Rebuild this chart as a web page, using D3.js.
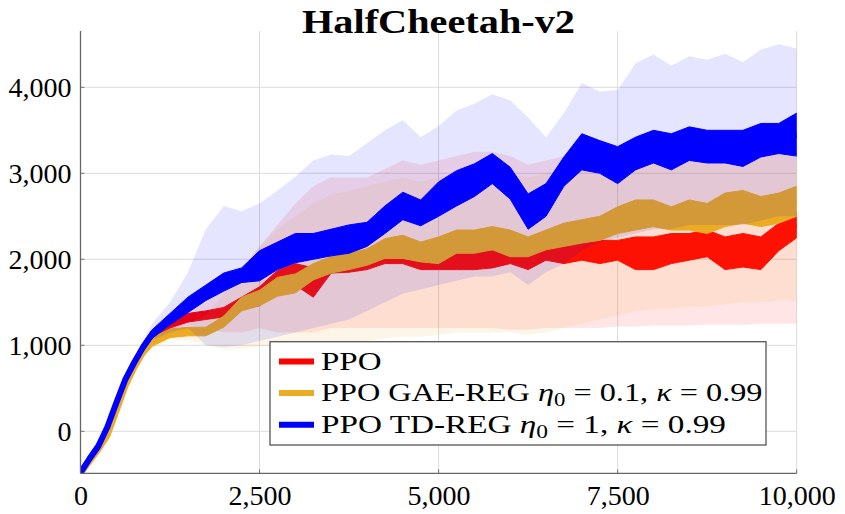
<!DOCTYPE html>
<html>
<head>
<meta charset="utf-8">
<script src="https://cdn.jsdelivr.net/npm/d3@7"></script>
<style>
  body { margin: 0; background: #fff; }
  text { font-family: "Liberation Serif", "DejaVu Serif", serif; }
</style>
</head>
<body>
<div id="chart"></div>
<script>
// training steps (x)
const steps = [0, 125, 250, 375, 500, 625, 750, 875, 1000, 1250, 1500, 1750, 2000, 2250, 2500, 2750, 3000, 3250, 3500,
  3750, 4000, 4250, 4500, 4750, 5000, 5250, 5500, 5750, 6000, 6250, 6500, 6750, 7000, 7250,
  7500, 7750, 8000, 8250, 8500, 8750, 9000, 9250, 9500, 9750, 10000];

// PPO (red): noisy mean curve envelope and shaded spread
const ppoLo = [-520, -370, -240, -70, 210, 510, 730, 910, 1040, 1200, 1270, 1300, 1330, 1420, 1460, 1610, 1700, 1560, 1840,
  1850, 1880, 1950, 1950, 1880, 1880, 1880, 1880, 1900, 1950, 1880, 1990, 1950, 1990, 1950,
  1990, 1880, 1880, 1950, 1990, 2030, 1880, 1910, 1880, 2100, 2250];
const ppoHi = [-460, -310, -160, 30, 310, 610, 830, 1010, 1140, 1290, 1370, 1400, 1440, 1560, 1680, 1870, 1950, 1900, 2030,
  2050, 2040, 2110, 2100, 2150, 2070, 2070, 2100, 2100, 2180, 2030, 2180, 2150, 2180, 2220,
  2220, 2260, 2260, 2300, 2300, 2340, 2260, 2300, 2260, 2420, 2550];
const ppoBandLo = [-500, -370, -240, -70, 210, 500, 720, 900, 1040, 1180, 1230, 1200, 1150, 1150, 1200, 1150, 1150, 1150, 1200,
  1200, 1200, 1200, 1200, 1200, 1200, 1200, 1200, 1200, 1180, 1180, 1200, 1200, 1200, 1200,
  1220, 1220, 1230, 1230, 1230, 1240, 1240, 1240, 1250, 1250, 1250];
const ppoBandHi = [-480, -310, -160, 30, 310, 620, 840, 1030, 1170, 1320, 1420, 1500, 1650, 1900, 2150, 2400, 2650, 2850, 2950,
  2950, 2950, 3050, 3150, 3100, 3150, 3200, 3250, 3250, 3200, 3100, 3150, 3200, 3250, 3250,
  3200, 3250, 3250, 3250, 3250, 3300, 3300, 3300, 3300, 3300, 3300];

// PPO GAE-REG (orange)
const gaeLo = [-520, -380, -250, -100, 180, 470, 690, 870, 990, 1090, 1110, 1110, 1210, 1400, 1460, 1570, 1610, 1760, 1840,
  1880, 1930, 2010, 2010, 1970, 1950, 2070, 2070, 2110, 2030, 2030, 2110, 2150, 2190, 2220,
  2300, 2340, 2380, 2340, 2340, 2300, 2380, 2420, 2380, 2420, 2500];
const gaeHi = [-460, -320, -170, 0, 280, 570, 790, 970, 1090, 1190, 1210, 1210, 1340, 1560, 1640, 1790, 1830, 1950, 2030,
  2070, 2120, 2240, 2280, 2200, 2260, 2340, 2340, 2380, 2340, 2260, 2340, 2420, 2460, 2500,
  2610, 2690, 2690, 2610, 2690, 2650, 2770, 2800, 2730, 2770, 2850];
const gaeBandLo = [-500, -380, -250, -100, 180, 460, 680, 860, 960, 1060, 1060, 1000, 950, 960, 980, 1000, 1020, 1050, 1050,
  1050, 1050, 1080, 1100, 1100, 1120, 1150, 1150, 1150, 1150, 1120, 1150, 1200, 1250, 1300,
  1350, 1400, 1420, 1430, 1450, 1450, 1480, 1500, 1500, 1520, 1520];
const gaeBandHi = [-480, -320, -170, 0, 280, 580, 800, 980, 1100, 1220, 1260, 1350, 1600, 1900, 2150, 2350, 2500, 2650, 2750,
  2800, 2850, 2900, 2950, 2900, 2950, 3000, 3000, 3050, 3000, 2950, 3000, 3050, 3100, 3100,
  3150, 3150, 3200, 3150, 3200, 3200, 3250, 3250, 3250, 3300, 3300];

// PPO TD-REG (blue)
const tdLo = [-520, -360, -220, 0, 280, 550, 750, 930, 1080, 1240, 1380, 1520, 1630, 1730, 1750, 1880, 1960, 2000, 2040,
  2070, 2150, 2300, 2460, 2390, 2500, 2620, 2730, 2880, 2700, 2350, 2500, 2850, 3040, 3000,
  2880, 3040, 3120, 3040, 3150, 3120, 3120, 3080, 3190, 3230, 3200];
const tdHi = [-440, -280, -120, 100, 380, 650, 850, 1030, 1180, 1370, 1560, 1700, 1840, 1900, 2100, 2200, 2300, 2300, 2350,
  2400, 2430, 2620, 2780, 2690, 2900, 3030, 3110, 3230, 3070, 2760, 2880, 3190, 3460, 3380,
  3310, 3420, 3500, 3460, 3540, 3500, 3500, 3500, 3580, 3580, 3700];
const tdBandLo = [-500, -370, -230, -10, 270, 540, 740, 920, 1060, 1150, 1200, 1000, 980, 1000, 1050, 1100, 1150, 1200, 1250,
  1300, 1400, 1500, 1600, 1650, 1700, 1750, 1800, 1800, 1850, 1700, 1850, 1950, 2100, 2200,
  2250, 2300, 2350, 2350, 2400, 2400, 2400, 2400, 2450, 2500, 2500];
const tdBandHi = [-470, -270, -110, 110, 390, 660, 860, 1050, 1250, 1500, 1850, 2350, 2620, 2560, 2650, 2800, 2960, 3150, 3220,
  3200, 3350, 3500, 3620, 3420, 3550, 3730, 3810, 3920, 3850, 3650, 3420, 3700, 4050, 3950,
  3970, 4280, 4380, 4250, 4360, 4320, 4390, 4290, 4440, 4500, 4450];

const xTicks = [0, 2500, 5000, 7500, 10000];
const yTicks = [0, 1000, 2000, 3000, 4000];
const chartTitle = "HalfCheetah-v2";

const width = 845, height = 514;
const plotLeft = 80.5, plotRight = 796.7, plotTop = 31, plotBottom = 473.3;

const svg = d3.select("#chart").append("svg")
  .attr("width", width)
  .attr("height", height);

const x = d3.scaleLinear().domain([0, 10000]).range([plotLeft, plotRight]);
const y = d3.scaleLinear().domain([-488.4, 4654.7]).range([plotBottom, plotTop]);

svg.append("defs").append("clipPath").attr("id", "plot-clip")
  .append("rect")
  .attr("x", plotLeft).attr("y", plotTop)
  .attr("width", plotRight - plotLeft).attr("height", plotBottom - plotTop);

// grid
const grid = svg.append("g").attr("stroke", "#dcdcdc").attr("stroke-width", 1);
grid.selectAll(".gx").data(xTicks.filter(d => d > 0)).enter().append("line")
  .attr("x1", d => x(d)).attr("x2", d => x(d))
  .attr("y1", plotTop).attr("y2", plotBottom);
grid.selectAll(".gy").data(yTicks).enter().append("line")
  .attr("x1", plotLeft).attr("x2", plotRight)
  .attr("y1", d => y(d)).attr("y2", d => y(d));

const series = [
  { lo: ppoLo, hi: ppoHi, bandLo: ppoBandLo, bandHi: ppoBandHi, color: "#ff0000", bandOpacity: 0.1 },
  { lo: gaeLo, hi: gaeHi, bandLo: gaeBandLo, bandHi: gaeBandHi, color: "#ebab22", bandOpacity: 0.1 },
  { lo: tdLo, hi: tdHi, bandLo: tdBandLo, bandHi: tdBandHi, color: "#0000ff", bandOpacity: 0.1 }
];

const plot = svg.append("g").attr("clip-path", "url(#plot-clip)");

series.forEach(s => {
  const band = d3.area()
    .x((d, i) => x(steps[i]))
    .y0((d, i) => y(s.bandLo[i]))
    .y1((d, i) => y(s.bandHi[i]));
  plot.append("path")
    .attr("d", band(steps))
    .attr("fill", s.color)
    .attr("fill-opacity", s.bandOpacity);

  const mean = d3.area()
    .x((d, i) => x(steps[i]))
    .y0((d, i) => y(s.lo[i]))
    .y1((d, i) => y(s.hi[i]));
  plot.append("path")
    .attr("d", mean(steps))
    .attr("fill", s.color)
    .attr("stroke", s.color)
    .attr("stroke-width", 1)
    .attr("stroke-linejoin", "round");

  const mid = d3.line()
    .x((d, i) => x(steps[i]))
    .y((d, i) => y((s.lo[i] + s.hi[i]) / 2));
  plot.append("path")
    .attr("d", mid(steps))
    .attr("fill", "none")
    .attr("stroke", s.color)
    .attr("stroke-width", 6)
    .attr("stroke-linejoin", "round");
});

// axes
const xAxis = d3.axisBottom(x).tickValues(xTicks).tickFormat(d3.format(",")).tickSize(0).tickPadding(9);
const yAxis = d3.axisLeft(y).tickValues(yTicks).tickFormat(d3.format(",")).tickSize(0).tickPadding(9);

const gx = svg.append("g").attr("transform", `translate(0,${plotBottom})`).call(xAxis);
const gy = svg.append("g").attr("transform", `translate(${plotLeft},0)`).call(yAxis);
[gx, gy].forEach(g => {
  g.select(".domain").remove();
  g.selectAll("text")
    .attr("font-family", "Liberation Serif, serif")
    .attr("font-size", 28)
    .attr("fill", "#000");
});
gx.selectAll("text").attr("dy", "0.8em");
gy.selectAll("text").attr("dy", "0.34em");

// inward tick marks
svg.append("g").selectAll("line").data(xTicks).enter().append("line")
  .attr("x1", d => x(d)).attr("x2", d => x(d))
  .attr("y1", plotBottom).attr("y2", plotBottom - 4)
  .attr("stroke", "#777").attr("stroke-width", 1);
svg.append("g").selectAll("line").data(yTicks).enter().append("line")
  .attr("x1", plotLeft).attr("x2", plotLeft + 4)
  .attr("y1", d => y(d)).attr("y2", d => y(d))
  .attr("stroke", "#777").attr("stroke-width", 1);

svg.append("line")
  .attr("x1", plotLeft).attr("x2", plotLeft).attr("y1", plotTop).attr("y2", plotBottom)
  .attr("stroke", "#666").attr("stroke-width", 1.3);
svg.append("line")
  .attr("x1", plotLeft).attr("x2", plotRight).attr("y1", plotBottom).attr("y2", plotBottom)
  .attr("stroke", "#666").attr("stroke-width", 1.3);

// title
svg.append("text")
  .attr("x", 302)
  .attr("y", 32.5)
  .attr("font-size", 34)
  .attr("font-weight", "bold")
  .attr("textLength", 273)
  .attr("lengthAdjust", "spacingAndGlyphs")
  .text(chartTitle);

// legend
const legend = svg.append("g");
legend.append("rect")
  .attr("x", 270).attr("y", 341.7)
  .attr("width", 496).attr("height", 103.3)
  .attr("fill", "#fff")
  .attr("stroke", "#555").attr("stroke-width", 1.3);

const legendRows = [
  [{ t: "PPO" }],
  [{ t: "PPO GAE-REG " }, { t: "η", it: true }, { t: "0", sub: true }, { t: " = 0.1, ", up: true }, { t: "κ", it: true }, { t: " = 0.99" }],
  [{ t: "PPO TD-REG " }, { t: "η", it: true }, { t: "0", sub: true }, { t: " = 1, ", up: true }, { t: "κ", it: true }, { t: " = 0.99" }]
];
const rowY = [361.5, 393, 424.8];
const rowWidth = [60.5, 441.5, 405];

legendRows.forEach((row, i) => {
  legend.append("line")
    .attr("x1", 279).attr("x2", 314)
    .attr("y1", rowY[i]).attr("y2", rowY[i])
    .attr("stroke", series[i].color)
    .attr("stroke-width", 6);
  const txt = legend.append("text")
    .attr("x", 321).attr("y", rowY[i] + 8)
    .attr("font-size", 25.5)
    .attr("textLength", rowWidth[i])
    .attr("lengthAdjust", "spacingAndGlyphs")
    .style("white-space", "pre");
  row.forEach(p => {
    const ts = txt.append("tspan").text(p.t);
    if (p.it) ts.attr("font-style", "italic");
    if (p.sub) ts.attr("font-size", 18).attr("dy", 5);
    if (p.up) ts.attr("dy", -5);
  });
});
</script>
</body>
</html>
